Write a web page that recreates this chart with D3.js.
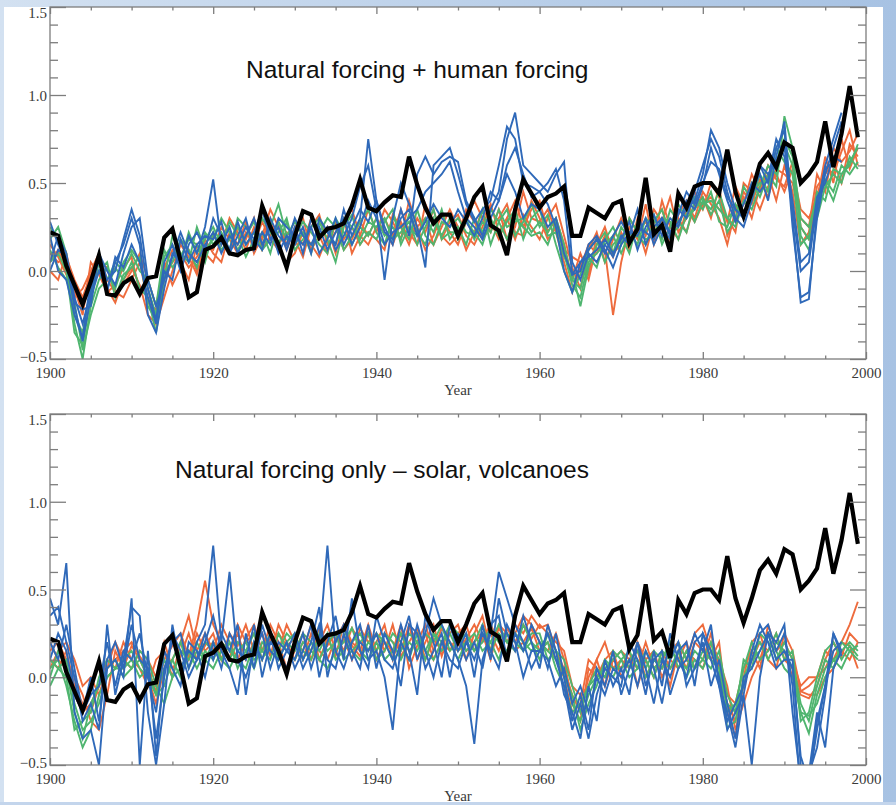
<!DOCTYPE html>
<html>
<head>
<meta charset="utf-8">
<script src="https://cdn.jsdelivr.net/npm/d3@7"></script>
<style>
  body { margin: 0; background: #fff; }
  svg { display: block; }
</style>
</head>
<body>
<svg id="chart" width="896" height="805"></svg>
<script>
// Global mean temperature anomaly (°C), observed vs. model ensembles, 1900-1999
const firstYear = 1900;

const observed = [
  0.22, 0.20, 0.03, -0.08, -0.19, -0.06, 0.09, -0.13, -0.14, -0.07,
  -0.04, -0.13, -0.04, -0.03, 0.19, 0.24, 0.06, -0.15, -0.12, 0.12,
  0.14, 0.19, 0.10, 0.09, 0.12, 0.13, 0.37, 0.25, 0.15, 0.02,
  0.20, 0.34, 0.32, 0.19, 0.24, 0.25, 0.27, 0.37, 0.52, 0.36,
  0.34, 0.39, 0.43, 0.42, 0.65, 0.49, 0.36, 0.27, 0.32, 0.32,
  0.20, 0.30, 0.42, 0.48, 0.26, 0.23, 0.09, 0.35, 0.52, 0.44,
  0.36, 0.42, 0.44, 0.48, 0.20, 0.20, 0.36, 0.33, 0.30, 0.38,
  0.40, 0.16, 0.24, 0.53, 0.21, 0.26, 0.11, 0.44, 0.36, 0.48,
  0.50, 0.50, 0.44, 0.69, 0.45, 0.31, 0.45, 0.61, 0.67, 0.59,
  0.73, 0.70, 0.50, 0.55, 0.62, 0.85, 0.59, 0.78, 1.05, 0.76
];

// Natural + anthropogenic forcing runs
const fullRed = [
  [.10,.05,.08,-.05,-.15,-.02,.08,-.10,-.18,-.05, .02,-.08,-.25,-.30,-.05,.05,.10,.02,.08,.15,
   .12,.25,.18,.10,.22,.15,.28,.18,.12,.05, .10,.22,.15,.08,.20,.25,.12,.18,.28,.20,
   .30,.22,.15,.28,.18,.25,.12,.20,.32,.22, .15,.28,.40,.30,.22,.35,.18,.25,.45,.30,
   .28,.35,.22,.05,-.12,.02,.15,.10,.20,.08, .22,.12,.30,.20,.35,.28,.15,.32,.40,.30,
   .45,.38,.30,.15,.35,.42,.30,.48,.55,.40, .60,.45,.15,.22,.48,.55,.62,.50,.72,.65],
  [.05,.12,.02,-.12,-.20,-.08,.05,.02,-.12,-.15, -.05,.05,-.18,-.22,.02,.12,.05,-.05,.15,.08,
   .20,.15,.30,.22,.12,.25,.18,.30,.15,.22, .18,.08,.25,.32,.15,.22,.30,.10,.20,.35,
   .22,.35,.28,.18,.40,.25,.30,.15,.25,.35, .25,.12,.22,.35,.28,.18,.30,.40,.25,.35,
   .40,.22,.30,.15,-.05,.10,-.02,.20,.12,-.25, .05,.25,.18,.38,.15,.28,.42,.22,.30,.45,
   .35,.50,.42,.28,.48,.38,.55,.45,.60,.52, .48,.62,.25,.18,.40,.65,.50,.75,.58,.70],
  [.00,-.05,.10,-.10,-.25,.05,-.02,-.12,-.08,.02, .08,-.12,-.10,-.30,-.15,.00,.15,.08,-.02,.18,
   .10,.05,.22,.15,.28,.10,.20,.35,.25,.12, .25,.30,.12,.20,.10,.28,.18,.25,.15,.22,
   .18,.12,.32,.25,.15,.30,.22,.35,.18,.28, .32,.20,.15,.25,.38,.22,.30,.18,.32,.25,
   .18,.30,.38,.20,.02,-.10,.12,.22,.05,.18, .30,.18,.25,.10,.28,.35,.20,.30,.22,.38,
   .42,.30,.48,.20,.30,.45,.38,.52,.42,.58, .55,.50,.30,.25,.55,.45,.70,.62,.68,.78],
  [.15,.08,-.02,-.15,-.10,.00,.10,-.05,-.12,-.08, .00,.10,-.05,-.20,.05,-.08,.02,.12,.00,.10,
   .05,.18,.10,.25,.18,.30,.12,.20,.28,.15, .22,.15,.30,.18,.25,.10,.28,.35,.20,.15,
   .25,.30,.20,.35,.22,.15,.38,.28,.20,.15, .20,.35,.28,.18,.25,.30,.38,.22,.20,.40,
   .30,.18,.25,.12,.08,.05,-.05,.15,.25,.10, .15,.30,.22,.28,.18,.40,.25,.18,.35,.28,
   .38,.42,.35,.30,.22,.50,.45,.35,.48,.55, .45,.58,.35,.30,.42,.60,.55,.68,.80,.60]
];

const fullGreen = [
  [.25,.18,.05,-.30,-.50,-.20,-.05,.02,-.10,.05, .12,.05,-.10,-.25,.08,.15,.05,.22,.10,.18,
   .25,.15,.28,.20,.08,.18,.30,.22,.15,.28, .15,.22,.10,.28,.18,.05,.25,.32,.15,.22,
   .18,.28,.35,.15,.25,.20,.30,.22,.35,.18, .25,.15,.30,.22,.35,.28,.18,.30,.25,.20,
   .22,.15,.28,.10,-.08,-.15,.05,.10,.15,.20, .10,.22,.15,.30,.25,.18,.35,.28,.22,.40,
   .35,.45,.28,.25,.38,.30,.50,.42,.55,.48, .88,.70,.20,.12,.35,.52,.45,.60,.55,.62],
  [.05,.10,.00,-.35,-.42,-.15,.05,-.10,.02,-.05, .05,-.10,-.15,-.35,-.05,.20,.10,.05,.25,.12,
   .18,.30,.22,.12,.20,.28,.15,.25,.38,.20, .28,.20,.15,.22,.30,.25,.12,.20,.28,.35,
   .22,.15,.30,.25,.18,.35,.20,.15,.28,.25, .30,.22,.20,.35,.15,.28,.35,.20,.28,.38,
   .25,.32,.15,.00,-.12,-.02,.12,.18,.05,.15, .20,.10,.28,.22,.32,.15,.25,.38,.30,.35,
   .42,.32,.40,.22,.30,.48,.40,.55,.45,.70, .62,.55,.15,.20,.45,.40,.58,.55,.62,.70],
  [.18,.25,.10,-.25,-.35,-.10,.00,.05,-.15,-.02, .02,.08,-.20,-.28,.00,.05,.18,.12,.02,.22,
   .15,.22,.12,.30,.25,.15,.22,.10,.28,.18, .20,.28,.22,.15,.10,.30,.22,.15,.25,.20,
   .30,.20,.25,.18,.32,.22,.15,.30,.20,.30, .18,.28,.22,.15,.30,.20,.28,.35,.18,.30,
   .35,.20,.22,.08,.00,-.20,.02,.15,.22,.10, .25,.18,.20,.15,.28,.35,.20,.25,.38,.28,
   .40,.35,.45,.30,.25,.40,.35,.48,.60,.55, .72,.60,.25,.18,.30,.48,.55,.50,.65,.58],
  [.12,.02,-.05,-.18,-.45,-.25,-.10,-.05,.05,.00, .10,.00,-.05,-.20,.12,.02,.08,.18,.15,.05,
   .22,.12,.18,.25,.15,.22,.12,.18,.22,.30, .12,.18,.25,.30,.22,.15,.30,.25,.18,.28,
   .25,.30,.18,.22,.28,.15,.25,.35,.18,.22, .22,.30,.18,.28,.22,.35,.25,.28,.30,.22,
   .28,.22,.30,.15,-.05,-.10,.08,.02,.18,.25, .15,.30,.22,.18,.20,.30,.28,.18,.32,.42,
   .38,.40,.35,.30,.35,.32,.45,.50,.52,.62, .75,.65,.30,.25,.42,.50,.40,.55,.60,.72]
];

// these runs end in 1997
const fullBlue = [
  [.28,.15,.05,-.20,-.40,-.15,.00,-.10,.05,.15, .30,.15,-.25,-.35,-.10,.10,.05,.20,.10,.25,
   .52,.15,.25,.10,.20,.30,.15,.25,.10,.20, .15,.25,.10,.30,.22,.15,.35,.20,.30,.75,
   .40,.25,.15,.35,.20,.55,.65,.55,.62,.65, .62,.40,.30,.20,.35,.45,.75,.90,.60,.55,
   .50,.45,.55,.62,.05,-.05,.10,.05,.15,.08, .20,.15,.25,.22,.18,.30,.20,.28,.35,.40,
   .55,.80,.70,.50,.35,.30,.45,.55,.40,.65, .85,.30,-.18,-.16,.35,.60,.75,.90],
  [.05,.20,.10,-.15,-.30,-.12,.10,-.05,.00,.18, .35,.20,-.10,-.28,.05,.15,.00,.15,.22,.12,
   .30,.20,.12,.28,.15,.22,.35,.18,.25,.12, .25,.10,.30,.18,.25,.12,.20,.30,.48,.60,
   .35,-.05,.30,.50,.38,.25,.02,.60,.65,.70, .55,.38,.28,.35,.40,.60,.82,.75,.50,.48,
   .45,.50,.58,.40,-.02,.00,.15,.20,.12,.02, .15,.22,.20,.30,.15,.25,.18,.35,.30,.45,
   .60,.75,.65,.45,.30,.25,.40,.60,.50,.70, .80,.25,-.15,-.12,.30,.55,.70,.85],
  [.20,.00,-.05,-.25,-.38,-.05,.05,-.12,.08,.02, .15,.05,-.15,-.30,.00,-.05,.18,.05,.15,.20,
   .18,.28,.10,.20,.30,.12,.22,.15,.30,.25, .20,.15,.25,.10,.18,.30,.15,.25,.35,.28,
   .40,.22,.18,.30,.35,.20,.28,.38,.30,.25, .35,.28,.20,.30,.45,.40,.55,.45,.30,.38,
   .35,.25,.30,.10,-.02,.05,.12,.18,.10,.20, .28,.20,.35,.15,.25,.30,.22,.32,.45,.38,
   .50,.62,.58,.42,.35,.30,.48,.60,.55,.62, .70,.40,.05,.10,.42,.50,.65,.62],
  [.00,.12,.08,-.18,-.22,-.20,.10,.00,-.08,.10, .25,.30,-.05,-.20,-.05,.08,.22,.10,.05,.15,
   .22,.10,.20,.15,.25,.18,.12,.30,.20,.15, .30,.20,.15,.25,.12,.22,.30,.15,.25,.40,
   .30,.15,.22,.25,.30,.35,.45,.50,.55,.62, .45,.30,.25,.18,.30,.40,.60,.70,.55,.42,
   .45,.38,.25,.00,-.12,.05,.08,.12,.18,.10, .18,.28,.12,.25,.32,.20,.30,.25,.40,.35,
   .48,.70,.55,.40,.28,.38,.50,.45,.52,.75, .65,.35,.00,.05,.38,.58,.62,.75]
];

// Natural-only forcing runs
const natRed = [
  [.20,.10,.05,-.10,-.20,-.15,-.05,.05,.10,.15, .20,.12,.05,-.08,.10,.18,.25,.12,.30,.55,
   .30,.20,.15,.25,.10,.20,.15,.30,.20,.05, .15,.25,.10,.20,.30,.15,.22,.10,.28,.20,
   .25,.15,.30,.12,.20,.28,.10,.22,.15,.30, .20,.10,.25,.35,.15,.28,.20,.30,.25,.35,
   .28,.30,.15,.05,-.10,-.20,.00,.10,-.05,.10, .05,.15,-.05,.10,.00,.15,.05,.10,.20,.05,
   .10,.25,.05,-.15,-.25,-.05,.10,.20,.15,.25, .10,.05,-.08,-.05,.00,.05,.15,.20,.30,.43],
  [.15,.20,.10,.00,-.10,-.25,-.30,-.10,.15,.05, .18,.10,.00,-.15,.05,.10,.20,.35,.15,.25,
   .15,.30,.20,.10,.22,.30,.15,.20,.25,.18, .22,.10,.25,.15,.10,.22,.30,.18,.12,.25,
   .10,.20,.15,.30,.05,.18,.25,.10,.20,.15, .25,.30,.15,.22,.30,.20,.15,.25,.35,.30,
   .20,.15,.25,.10,-.15,-.25,.05,.00,.10,.15, .00,.10,.15,.00,.10,.05,.15,.20,.10,.25,
   .30,.15,.10,-.05,-.30,-.15,.00,.10,.25,.20, .15,.00,-.10,-.12,-.05,.10,.20,.12,.25,.20],
  [.05,.15,.20,.10,-.05,.00,-.10,.05,.20,.10, .05,.15,.10,.00,.20,.05,.12,.25,.10,.18,
   .25,.10,.25,.18,.30,.15,.25,.12,.30,.20, .10,.20,.15,.28,.18,.25,.15,.28,.20,.15,
   .20,.30,.10,.25,.15,.20,.30,.15,.28,.20, .15,.22,.30,.20,.25,.15,.28,.20,.30,.22,
   .30,.25,.20,.15,-.05,-.10,-.05,.10,.20,.05, .10,.05,.20,.10,.15,.00,.10,.05,.15,.10,
   .05,.20,.10,-.10,-.15,.05,.15,.05,.30,.15, .20,.10,-.05,.00,.00,.15,.10,.20,.18,.05],
  [.10,.05,.15,-.05,-.15,-.20,-.05,.10,.05,.20, .10,.05,-.05,.10,.15,.00,.20,.10,.25,.15,
   .20,.15,.10,.30,.20,.25,.10,.22,.15,.30, .20,.15,.30,.10,.22,.12,.30,.20,.15,.30,
   .15,.25,.20,.15,.30,.10,.20,.30,.12,.25, .30,.15,.20,.25,.10,.30,.25,.15,.20,.28,
   .15,.20,.10,.00,-.20,-.15,.10,.05,.00,.10, .15,.10,.05,.20,.05,.10,-.05,.15,.05,.20,
   .15,.10,.20,-.20,-.34,.00,.20,.25,.10,.05, .25,.15,-.08,-.10,-.10,.00,.05,.15,.10,.20]
];

const natGreen = [
  [.05,.10,-.05,-.25,-.40,-.30,-.10,.00,.05,.10, .15,.05,.00,-.10,.05,.10,.00,.15,.10,.20,
   .15,.10,.20,.05,.15,.25,.10,.20,.15,.25, .20,.15,.10,.25,.15,.20,.28,.15,.10,.20,
   .15,.25,.20,.10,.20,.15,.25,.20,.30,.15, .20,.25,.15,.20,.28,.20,.15,.25,.20,.15,
   .20,.15,.10,.05,-.15,-.25,-.10,.00,.05,.10, .15,.05,.10,.00,.10,.05,.15,.10,.05,.15,
   .10,.05,.15,-.10,-.20,-.05,.15,.20,.10,.20, .15,.05,-.20,-.32,-.10,.05,.10,.15,.20,.15],
  [.00,.15,.05,-.20,-.35,-.15,-.05,.05,.10,.00, .05,.15,.10,-.05,-.15,.00,.15,.10,.20,.10,
   .05,.15,.10,.20,.15,.05,.20,.15,.10,.20, .15,.25,.20,.10,.05,.15,.20,.28,.15,.10,
   .20,.10,.15,.25,.15,.20,.15,.25,.20,.30, .25,.15,.20,.30,.15,.25,.20,.15,.30,.20,
   .15,.20,.05,-.05,-.20,-.15,-.05,.05,.00,.15, .10,.15,.05,.10,.00,.15,.10,.20,.10,.05,
   .15,.10,.05,-.29,-.25,.00,.10,.15,.25,.10, .20,.10,-.15,-.25,-.05,.10,.05,.20,.15,.10],
  [.10,.05,.00,-.30,-.25,-.20,.00,.10,.05,.05, .10,.00,.05,-.10,-.05,.10,.20,.05,.15,.10,
   .20,.10,.05,.15,.20,.10,.15,.10,.25,.15, .10,.20,.15,.10,.20,.25,.10,.15,.20,.25,
   .10,.15,.25,.20,.10,.25,.15,.10,.20,.25, .15,.20,.25,.15,.20,.10,.25,.20,.15,.25,
   .25,.10,.15,.00,-.10,-.30,-.15,-.05,.10,.05, .05,.10,.15,.05,.15,.10,.05,.15,.00,.10,
   .05,.15,.10,-.20,-.15,.05,.20,.10,.15,.25, .10,.15,-.25,-.20,.00,.15,.20,.10,.18,.12],
  [-.05,.05,.10,-.15,-.30,-.25,-.15,.00,.05,.10, .05,.10,.00,-.05,.10,.00,.05,.15,.05,.15,
   .10,.20,.15,.10,.05,.20,.15,.25,.10,.20, .25,.10,.20,.15,.25,.10,.15,.20,.25,.15,
   .25,.20,.10,.15,.25,.20,.10,.25,.15,.20, .10,.20,.15,.25,.20,.30,.20,.25,.15,.20,
   .10,.25,.15,.10,-.05,-.20,-.05,.00,.05,.00, .10,.00,.05,.15,.05,.10,.20,.05,.15,.05,
   .10,.20,.00,-.15,-.20,.10,.05,.25,.20,.15, .05,.00,-.20,-.22,-.15,.00,.10,.05,.15,.18]
];

// these runs end in 1997
const natBlue = [
  [.45,.30,.65,-.20,-.35,-.30,-.50,.05,.10,.00, .45,-.50,.15,-.45,.05,.20,.25,.05,.20,.30,
   .75,.20,.60,.10,.00,.15,.25,.05,.20,.15, .10,.25,.05,.20,.75,.15,.05,.20,.30,.10,
   .15,.00,-.30,.20,.35,.10,.25,.45,.30,.20, .10,-.05,-.38,.10,.25,.60,.45,.30,.20,.05,
   .15,.25,.10,-.05,-.30,-.15,-.35,-.10,.05,.00, -.05,.20,.10,-.10,.15,-.05,.25,.10,.00,.20,
   .25,.10,-.05,-.20,-.40,-.10,-.50,.00,.25,.20, .30,-.20,-.60,-.60,-.30,-.05,.25,.12],
  [.35,.40,.20,.00,-.25,-.15,-.30,.30,-.10,.10, .40,.35,-.20,-.50,-.15,.30,.05,.15,.10,.20,
   .35,.15,.05,-.10,.25,.05,.30,.15,.10,.20, .05,.15,.30,.00,.20,.35,.10,.45,.15,.05,
   .35,.20,.10,.30,.15,-.10,.35,.20,.00,.30, .15,.25,.00,.30,.10,.45,.25,.15,.35,.20,
   .05,.30,.15,-.10,-.20,-.35,-.05,-.25,.10,-.05, .05,-.10,.20,.05,-.15,.10,.00,.15,.20,-.05,
   .25,.15,.00,-.25,-.15,-.05,.10,.25,.30,.15, .25,-.05,-.65,-.55,-.20,-.40,.05,.15],
  [.10,.25,.15,-.10,-.20,.00,-.25,.10,.20,.05, .30,.10,.05,-.35,.00,.25,.15,.00,.10,.25,
   .10,.25,.15,.30,-.10,.20,.10,.25,.05,.15, .25,.10,.20,.40,.00,.20,.30,.15,.05,.30,
   .05,.25,.15,-.05,.30,.25,.05,.15,.25,.00, .25,.10,.20,.05,.30,.35,.10,.25,.15,.30,
   .20,.05,.25,.00,-.25,-.10,-.30,.05,-.05,.15, -.10,.05,.20,-.05,.10,.15,-.10,.05,.10,.25,
   .15,.30,-.05,-.30,-.20,-.10,.15,.30,.20,.05, .10,.10,-.50,-.55,-.40,-.10,.25,.15],
  [.20,.10,.30,.05,-.20,-.10,-.05,.20,-.05,.15, .10,.25,.00,-.20,.15,.05,-.05,.20,.15,.00,
   .20,.05,.25,.15,.10,.30,.00,.20,.15,.05, .20,.05,.15,.30,.10,.05,.25,.10,.20,.15,
   .25,.10,.05,.20,.10,.30,.15,.00,.20,.10, .05,.20,.10,.25,.15,.05,.30,.20,.00,.15,
   .15,.10,-.05,.05,-.15,-.05,-.20,.00,-.10,.05, .00,.10,-.05,.15,.05,-.15,.10,.20,-.05,.05,
   .20,-.05,.10,-.15,-.35,.00,.05,.15,.25,.10, .15,.05,-.45,-.60,-.25,-.05,.15,.20]
];

const xMajorTicks = [1900, 1920, 1940, 1960, 1980, 2000];
const xMinorTicks = [1905, 1910, 1915, 1925, 1930, 1935, 1945, 1950, 1955,
                     1965, 1970, 1975, 1985, 1990, 1995];
const yMajorTicks = [-0.5, 0.0, 0.5, 1.0, 1.5];
const yMinorTicks = [-0.4, -0.3, -0.2, -0.1, 0.1, 0.2, 0.3, 0.4, 0.6, 0.7, 0.8, 0.9,
                     1.1, 1.2, 1.3, 1.4];
const panelTitles = ["Natural forcing + human forcing", "Natural forcing only – solar, volcanoes"];
const axisTitle = "Year";

const colors = { red: "#ee6b3d", green: "#4fb56f", blue: "#2f69b9", obs: "#000" };

const svg = d3.select("#chart");

// slide-style backdrop
const defs = svg.append("defs");
const bg = defs.append("linearGradient").attr("id", "bgGrad")
  .attr("x1", 0).attr("y1", 0).attr("x2", 1).attr("y2", 0);
bg.append("stop").attr("offset", "0%").attr("stop-color", "#d3e1f1");
bg.append("stop").attr("offset", "100%").attr("stop-color", "#a7c2e3");
svg.append("rect").attr("width", 896).attr("height", 805).attr("fill", "url(#bgGrad)");
svg.append("rect").attr("x", 4).attr("y", 7).attr("width", 879).attr("height", 795).attr("fill", "#fff");

const x = d3.scaleLinear().domain([1900, 2000]).range([50, 866]);

function drawPanel(idx, top, bottom, reds, greens, blues, titleX, titleY) {
  const y = d3.scaleLinear().domain([-0.5, 1.5]).range([bottom, top]);
  const g = svg.append("g").attr("class", "panel");
  const clipId = "clip" + idx;
  defs.append("clipPath").attr("id", clipId)
    .append("rect").attr("x", x(1900)).attr("y", top)
    .attr("width", x(2000) - x(1900)).attr("height", bottom - top);

  const line = d3.line()
    .x((d, i) => x(firstYear + i))
    .y(d => y(d));

  const plot = g.append("g").attr("clip-path", `url(#${clipId})`);
  const groups = [[reds, colors.red], [greens, colors.green], [blues, colors.blue]];
  groups.forEach(([runs, c]) => {
    plot.append("g").selectAll("path").data(runs).join("path")
      .attr("d", line).attr("fill", "none")
      .attr("stroke", c).attr("stroke-width", 1.9).attr("stroke-linejoin", "miter");
  });
  plot.append("path").datum(observed)
    .attr("d", line).attr("fill", "none")
    .attr("stroke", colors.obs).attr("stroke-width", 4.2).attr("stroke-linejoin", "miter");

  // frame with inward ticks on all sides
  const axisColor = "#7d7d7d";
  const style = sel => {
    sel.select(".domain").remove();
    sel.selectAll("line").attr("stroke", axisColor).attr("stroke-width", 1.3);
    sel.selectAll("text").attr("fill", "#3a3a3a")
      .style("font-family", "'Liberation Serif', 'DejaVu Serif', serif")
      .style("font-size", "15px");
  };

  g.append("g").attr("transform", `translate(0,${bottom})`)
    .call(d3.axisBottom(x).tickValues(xMajorTicks).tickSize(-7).tickPadding(8).tickFormat(d3.format("d")))
    .call(style);
  g.append("g").attr("transform", `translate(0,${bottom})`)
    .call(d3.axisBottom(x).tickValues(xMinorTicks).tickSize(-3.5).tickFormat(""))
    .call(style);
  g.append("g").attr("transform", `translate(0,${top})`)
    .call(d3.axisTop(x).tickValues(xMajorTicks).tickSize(-7).tickFormat(""))
    .call(style);
  g.append("g").attr("transform", `translate(0,${top})`)
    .call(d3.axisTop(x).tickValues(xMinorTicks).tickSize(-3.5).tickFormat(""))
    .call(style);

  const left = g.append("g").attr("transform", `translate(${x(1900)},0)`)
    .call(d3.axisLeft(y).tickValues(yMajorTicks).tickSize(-16).tickPadding(3).tickFormat(d3.format(".1f")))
    .call(style);
  left.selectAll(".tick text")
    .attr("dy", d => d === 1.5 ? "0.68em" : d === -0.5 ? "0.18em" : "0.38em");
  g.append("g").attr("transform", `translate(${x(1900)},0)`)
    .call(d3.axisLeft(y).tickValues(yMinorTicks).tickSize(-8).tickFormat(""))
    .call(style);
  g.append("g").attr("transform", `translate(${x(2000)},0)`)
    .call(d3.axisRight(y).tickValues(yMajorTicks).tickSize(-16).tickFormat(""))
    .call(style);
  g.append("g").attr("transform", `translate(${x(2000)},0)`)
    .call(d3.axisRight(y).tickValues(yMinorTicks).tickSize(-8).tickFormat(""))
    .call(style);

  g.append("rect").attr("x", x(1900)).attr("y", top)
    .attr("width", x(2000) - x(1900)).attr("height", bottom - top)
    .attr("fill", "none").attr("stroke", axisColor).attr("stroke-width", 1.3);

  g.append("text").attr("x", (x(1900) + x(2000)) / 2).attr("y", bottom + 36)
    .attr("text-anchor", "middle").attr("fill", "#3a3a3a")
    .style("font-family", "'Liberation Serif', 'DejaVu Serif', serif").style("font-size", "15px")
    .text(axisTitle);

  g.append("text").attr("x", titleX).attr("y", titleY).attr("fill", "#111")
    .style("font-family", "'Liberation Sans', Arial, sans-serif").style("font-size", "24.5px")
    .text(panelTitles[idx]);
}

drawPanel(0, 7, 359, fullRed, fullGreen, fullBlue, 246, 78);
drawPanel(1, 414, 765, natRed, natGreen, natBlue, 175, 478);

// bottom slide band sits over the lower axis title
svg.append("rect").attr("x", 0).attr("y", 802).attr("width", 896).attr("height", 3).attr("fill", "#c3d5ec");
</script>
</body>
</html>
